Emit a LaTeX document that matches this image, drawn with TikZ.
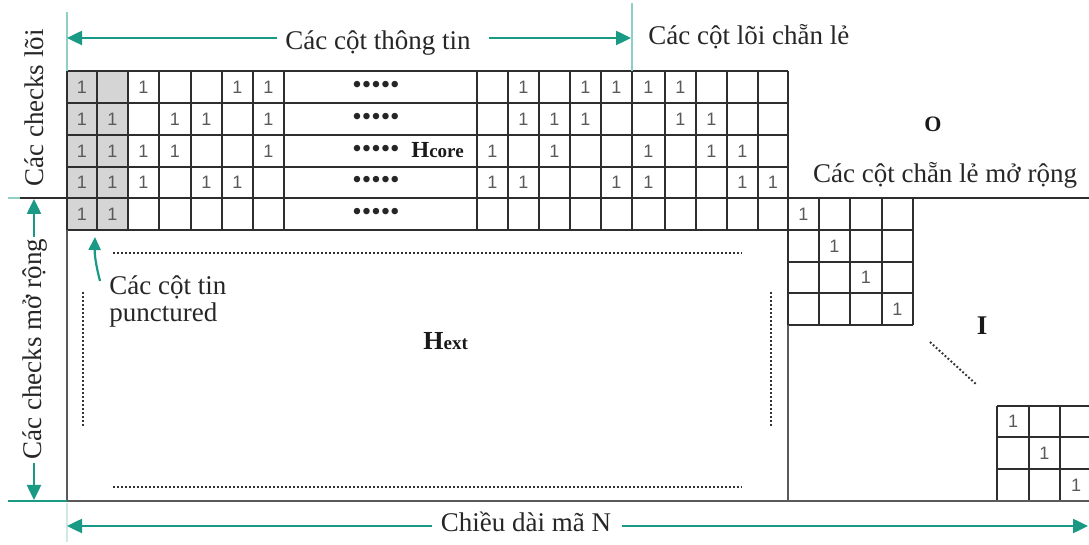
\documentclass[tikz,border=0pt]{standalone}
\usepackage{fontspec}
\setmainfont{Liberation Serif}
\newfontfamily\digitfont{Liberation Sans}
\usetikzlibrary{arrows.meta}
\definecolor{teal1}{HTML}{1A9A84}
\definecolor{teallight}{HTML}{8FD0C5}
\definecolor{gridc}{HTML}{2E2E2E}
\definecolor{cellgray}{HTML}{D5D5D5}
\definecolor{outerc}{HTML}{5A5A5A}
\definecolor{dotc}{HTML}{333333}
\begin{document}
\begin{tikzpicture}[x=0.5pt,y=-0.5pt,
  lbl/.style={font=\fontsize{13.5}{13.5}\selectfont, inner sep=0pt, text=black!85},
  dim/.style={teal1, line width=1.25pt, -{Triangle[length=7.5pt,width=7pt]}},
  dimsmall/.style={teal1, line width=1.1pt, -{Triangle[length=6.5pt,width=6pt]}},
  one/.style={font=\digitfont\fontsize{9}{10}\selectfont, text=black!65, inner sep=0pt},
  gline/.style={gridc, line width=0.75pt},
  dotl/.style={dotc, line width=1pt, dash pattern=on 0.9pt off 1.1pt},
  dotsnode/.style={font=\fontsize{13.5}{13.5}\selectfont, inner sep=0pt, anchor=west, text=black!85},
  boldlbl/.style={inner sep=0pt, text=black!90}
]
\useasboundingbox (0,0) rectangle (1089,545);
\clip (0,0) rectangle (1089,545);

% shading of punctured columns
\fill[cellgray] (67,71) rectangle (128,230);

% core grid
\foreach \x in {67,97,128,159,191,222,253,284,477,508,539,570,601,665,696,727,758,788}
  \draw[gline] (\x,71) -- (\x,230);
\draw[gridc, line width=1.1pt] (632,71) -- (632,230);
\foreach \y in {71,103,135,167,230}
  \draw[gline] (67,\y) -- (788,\y);
\draw[gridc, line width=1.2pt] (20,198) -- (913,198);
\draw[gline] (913,198) -- (1089,198);
\draw[teallight, line width=1pt] (8,198) -- (20,198);

% identity block (top)
\foreach \x in {819,850,882,913}
  \draw[gline] (\x,198) -- (\x,325);
\draw[gline] (788,198) -- (788,325);
\foreach \y in {262,293,325}
  \draw[gline] (788,\y) -- (913,\y);
\draw[gline] (788,230) -- (913,230);

% identity block (bottom right)
\foreach \x in {997,1029,1060}
  \draw[gline] (\x,406) -- (\x,501);
\foreach \y in {406,437,469}
  \draw[gline] (997,\y) -- (1089,\y);

% outer borders
\draw[outerc, line width=0.9pt] (67,230) -- (67,501) -- (1089,501);
\draw[outerc, line width=0.9pt] (788,325) -- (788,501);
\draw[teal1, line width=1pt] (8,501) -- (67,501);
\draw[teallight, line width=1pt] (67,12) -- (67,71);
\draw[teallight, line width=1pt] (632,3) -- (632,71);
\draw[teallight!45, line width=0.8pt] (67,503) -- (67,542);

% ones in the core / first extension row
\def\cxarr{{0,82,112.5,143.5,175,206.5,237.5,268.5,492.5,523.5,554.5,585.5,616.5,648.5,680.5,711.5,742.5,773}}
\def\ryarr{{0,87,119,151,182.5,214}}
\foreach \r/\c in {1/1,1/3,1/6,1/7,1/9,1/11,1/12,1/13,1/14,
                   2/1,2/2,2/4,2/5,2/7,2/9,2/10,2/11,2/14,2/15,
                   3/1,3/2,3/3,3/4,3/7,3/8,3/10,3/13,3/15,3/16,
                   4/1,4/2,4/3,4/5,4/6,4/8,4/9,4/12,4/13,4/16,4/17,
                   5/1,5/2}{
  \pgfmathsetmacro\xx{\cxarr[\c]}
  \pgfmathsetmacro\yy{\ryarr[\r]}
  \node[one] (o\r-\c) at (\xx,\yy) {1};
}
% ones in identity blocks
\foreach \x/\y [count=\i] in {803.5/214,834.5/246,866/277.5,897.5/309}
  \node[one] (ia\i) at (\x,\y) {1};
\foreach \x/\y [count=\i] in {1013/421.5,1044.5/453,1076/485}
  \node[one] (ib\i) at (\x,\y) {1};

% dots in wide column
\foreach \y [count=\i] in {87,119,151,182.5,214}
  \node[dotsnode] (dd\i) at (352,\y) {•••••};
\node[boldlbl, anchor=base west] (hcore) at (411,158)
  {{\fontsize{11.5}{12}\selectfont\bfseries H}{\fontsize{9.5}{10}\selectfont\bfseries core}};
\node[boldlbl, anchor=base west] (hext) at (423,350)
  {{\fontsize{13}{13}\selectfont\bfseries H}{\fontsize{9.5}{10}\selectfont\bfseries ext}};
\node[boldlbl, anchor=base, font=\fontsize{11}{11}\selectfont\bfseries] (olbl) at (933,132) {O};
\node[boldlbl, anchor=base, font=\fontsize{13.5}{13.5}\selectfont\bfseries] (ilbl) at (982,335) {I};

% dotted lines in H_ext
\draw[dotl] (113,253) -- (742,253);
\draw[dotl] (113,487) -- (742,487);
\draw[dotl] (83,292) -- (83,427);
\draw[dotl] (771,292) -- (771,427);
\draw[dotl] (930,342) -- (977,385);

% labels and dimension arrows
\node[lbl, anchor=base] (tinfo) at (378,50) {Các cột thông tin};
\coordinate (tl) at (67,38);
\coordinate (tr) at (631,38);
\draw[dim] ([xshift=-4pt]tinfo.west |- tl) -- (tl);
\draw[dim] ([xshift=9pt]tinfo.east |- tr) -- (tr);

\node[lbl, anchor=base west] (tpar) at (648,45) {Các cột lõi chẵn lẻ};
\node[lbl, anchor=base] (tpext) at (945,183) {Các cột chẵn lẻ mở rộng};

\node[lbl, anchor=base, rotate=90] (chkcore) at (43,108) {Các checks lõi};
\node[lbl, anchor=base, rotate=90] (chkext) at (41,349) {Các checks mở rộng};
\coordinate (ct) at (34,199);
\coordinate (cb) at (34,500);
\draw[dim] (34,237) -- (ct);
\draw[dim] (34,463) -- (cb);

\node[lbl, anchor=base] (tlen) at (526,532) {Chiều dài mã N};
\coordinate (bl) at (67,526);
\coordinate (br) at (1088,526);
\draw[dim] ([xshift=-4pt]tlen.west |- bl) -- (bl);
\draw[dim] ([xshift=5pt]tlen.east |- br) -- (br);

\node[lbl, anchor=base west, align=left] (tpunct) at (109,322) {Các cột tin\\[0pt]punctured};
\coordinate (pa) at (100,281);
\coordinate (pb) at (95,237);
\draw[dimsmall] (pa) to[bend left=8] (pb);
\end{tikzpicture}
\end{document}
